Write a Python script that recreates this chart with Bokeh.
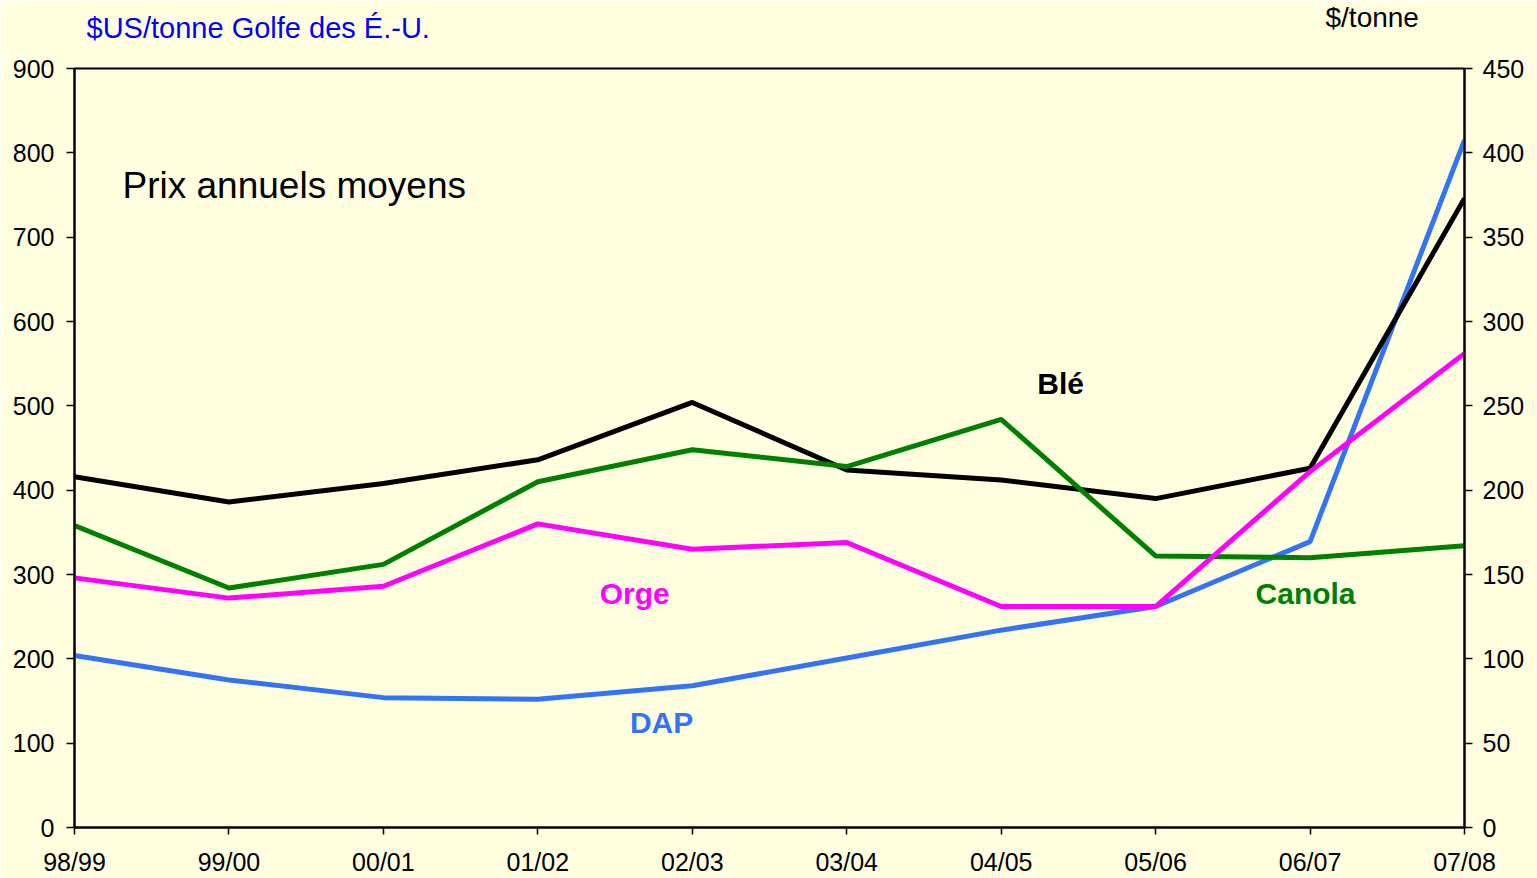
from bokeh.plotting import figure
from bokeh.models import Range1d, LinearAxis, FixedTicker, Label
from bokeh.embed import file_html
from bokeh.resources import INLINE

# ---- data ----
seasons = ["98/99", "99/00", "00/01", "01/02", "02/03", "03/04", "04/05", "05/06", "06/07", "07/08"]
dap = [204, 175, 154, 152, 168, 201, 234, 262, 339, 815]          # left axis, $US/tonne Golfe des É.-U.
ble = [208, 193, 204, 218, 252, 212, 206, 195, 213, 373]          # right axis, $/tonne
canola = [179, 142, 156, 205, 224, 214, 242, 161, 160, 167]       # right axis
orge = [148, 136, 143, 180, 165, 169, 131, 131, 211, 281]         # right axis
left_ticks = [0, 100, 200, 300, 400, 500, 600, 700, 800, 900]
right_ticks = [0, 50, 100, 150, 200, 250, 300, 350, 400, 450]

FONT = "Liberation Sans"
BG = "#FFFFE0"
BLUE = "#3374F6"
MAGENTA = "#FF00FF"
GREEN = "#008000"

xs = list(range(len(seasons)))

p = figure(width=1537, height=878, output_backend="svg", toolbar_location=None,
           x_range=Range1d(0, len(seasons) - 1), y_range=Range1d(0, 900),
           min_border_left=74, min_border_right=73, min_border_top=68, min_border_bottom=50)
p.background_fill_color = BG
p.border_fill_color = BG
p.outline_line_color = "black"
p.outline_line_width = 2
p.xgrid.visible = False
p.ygrid.visible = False

p.extra_y_ranges = {"right": Range1d(0, 450)}
raxis = LinearAxis(y_range_name="right", ticker=FixedTicker(ticks=right_ticks))
p.add_layout(raxis, "right")

p.yaxis[0].ticker = FixedTicker(ticks=left_ticks)
p.xaxis.ticker = FixedTicker(ticks=xs)
p.xaxis.major_label_overrides = {i: s for i, s in enumerate(seasons)}

for ax in [p.xaxis[0], p.yaxis[0], raxis]:
    ax.axis_line_color = "black"
    ax.axis_line_width = 2
    ax.major_tick_line_color = "black"
    ax.major_tick_line_width = 1.5
    ax.major_tick_out = 8
    ax.major_tick_in = 0
    ax.minor_tick_out = 0
    ax.minor_tick_in = 0
    ax.major_label_text_font = FONT
    ax.major_label_text_font_size = "25px"
    ax.major_label_text_color = "black"
p.xaxis[0].major_tick_out = 7
p.xaxis[0].major_label_standoff = 13
p.yaxis[0].major_label_standoff = 12
raxis.major_label_standoff = 10

# ---- lines ----
p.line(xs, dap, line_color=BLUE, line_width=5)
p.line(xs, ble, line_color="black", line_width=5, y_range_name="right")
p.line(xs, canola, line_color=GREEN, line_width=5, y_range_name="right")
p.line(xs, orge, line_color=MAGENTA, line_width=5, y_range_name="right")

# ---- texts ----
def lab(x, y, text, color, size, style="normal", place="center"):
    p.add_layout(Label(x=x, y=y, text=text, text_color=color, text_font=FONT,
                       text_font_size=size, text_font_style=style,
                       text_baseline="alphabetic", text_align="left"), place)

lab(0.311, 761, "Prix annuels moyens", "black", "37px")
lab(6.234, 527, "Blé", "black", "30px", "bold")
lab(3.401, 278, "Orge", MAGENTA, "30px", "bold")
lab(3.596, 124, "DAP", BLUE, "30px", "bold")
lab(7.647, 278, "Canola", GREEN, "30px", "bold")
# texts above the frame (placed in the "above" panel so they are not clipped)
lab(0.078, 948, "$US/tonne Golfe des É.-U.", "#0000FF", "29px", place="above")
lab(8.100, 961, "$/tonne", "black", "28px", place="above")

open("out.html", "w").write(file_html(p, INLINE))
